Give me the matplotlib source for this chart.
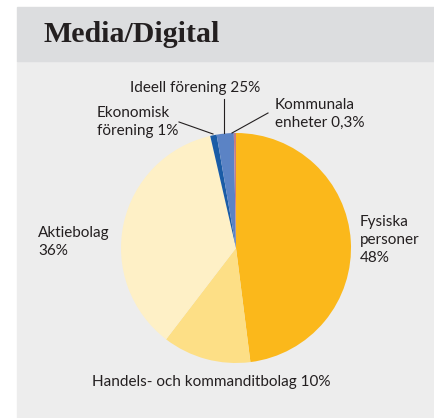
import matplotlib
matplotlib.use("Agg")
from matplotlib import pyplot as plt
from matplotlib.patches import Rectangle

# slice data (drawn sizes, clockwise from 12 o'clock)
labels = ["Fysiska\npersoner\n48%", "Handels- och kommanditbolag 10%", "Aktiebolag\n36%",
          "Ekonomisk\nförening 1%", "Ideell förening 25%", "Kommunala\nenheter 0,3%"]
values = [48, 12.4, 36, 0.9, 2.4, 0.3]
colors = ["#FBB81B", "#FDDF86", "#FEF0C6", "#1A5CA6", "#5B83C5", "#C47D88"]

W, H = 434, 418
fig = plt.figure(figsize=(W / 100, H / 100), dpi=100)
ax = fig.add_axes([0, 0, 1, 1])

def Y(y):  # image row -> plot y
    return H - y

# panel + header band
ax.add_patch(Rectangle((17, 0), W - 17, Y(61), color="#EDEDED", zorder=0))
ax.add_patch(Rectangle((17, Y(61)), W - 17, 54, color="#DCDDDF", zorder=0))
ax.text(44, Y(34), "Media/Digital", fontsize=21.5, fontweight="bold",
        family="Liberation Serif", color="#231F20", va="center", ha="left")

ax.pie(values, colors=colors, startangle=90, counterclock=False,
       center=(236, Y(248)), radius=115, frame=True,
       wedgeprops=dict(linewidth=0))
ax.set_xlim(0, W)
ax.set_ylim(0, H)
ax.set_aspect("equal")
ax.axis("off")

fnt = dict(fontsize=11, family="Lato", color="#231F20", linespacing=1.35)
ax.text(360, Y(240), labels[0], ha="left", va="center", **fnt)
ax.text(211, Y(382), labels[1], ha="center", va="center", **fnt)
ax.text(38, Y(242), labels[2], ha="left", va="center", **fnt)
ax.text(97, Y(122), labels[3], ha="left", va="center", **fnt)
ax.text(130, Y(88), labels[4], ha="left", va="center", **fnt)
ax.text(275, Y(114), labels[5], ha="left", va="center", **fnt)

# leader lines
lc = dict(color="#231F20", linewidth=0.8)
ax.plot([179, 213], [Y(122), Y(134)], **lc)
ax.plot([224, 224], [Y(99), Y(133)], **lc)
ax.plot([268, 232], [Y(113), Y(133)], **lc)

fig.savefig("out.png", dpi=100)
